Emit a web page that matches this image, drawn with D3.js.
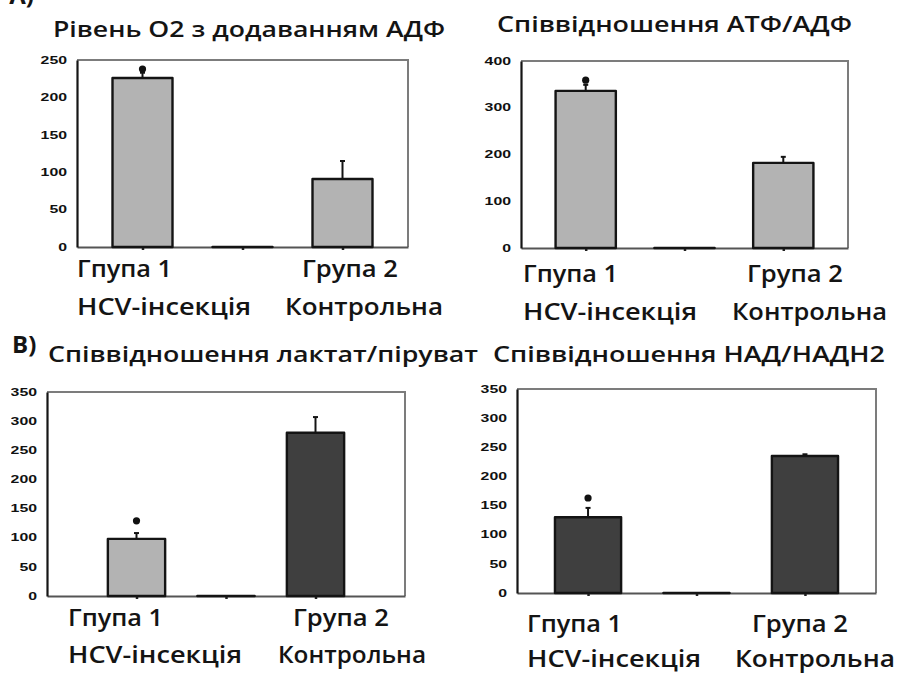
<!DOCTYPE html>
<html>
<head>
<meta charset="utf-8">
<script src="https://cdn.jsdelivr.net/npm/d3@7"></script>
<style>
body { margin: 0; background: #fff; }
svg { display: block; }
.title, .cat_label { font-family: "Open Sans", "Noto Sans", sans-serif; font-weight: 600; fill: #141414; }
.panel_letter { font-family: "Open Sans", "Noto Sans", sans-serif; font-weight: bold; fill: #141414; }
</style>
</head>
<body>
<svg id="figure" width="898" height="675"></svg>
<script>
// categories on the x axis (middle one is an empty slot)
const categories = ['group1', 'blank', 'group2'];
const group_names = ['Гпупа 1', 'Група 2'];
const group_subnames = ['HCV-інсекція', 'Контрольна'];

const titles = [
    'Рівень О2 з додаванням АДФ',
    'Співвідношення АТФ/АДФ',
    'Співвідношення лактат/піруват',
    'Співвідношення НАД/НАДН2'
];

// values
const o2_values = [226, 0, 91];
const o2_errors = [7, 0, 24];
const o2_ticks = [0, 50, 100, 150, 200, 250];

const atp_values = [336, 0, 182];
const atp_errors = [13, 0, 13];
const atp_ticks = [0, 100, 200, 300, 400];

const lactate_values = [98, 0, 280];
const lactate_errors = [10, 0, 27];
const lactate_ticks = [0, 50, 100, 150, 200, 250, 300, 350];

const nad_values = [130, 0, 235];
const nad_errors = [16, 0, 3];
const nad_ticks = [0, 50, 100, 150, 200, 250, 300, 350];

// significance dot above group 1, per panel
const star_values = [238, 359, 129, 163];

const LIGHT = '#b3b3b3';
const DARK = '#3f3f3f';

const panels = [
    {values: o2_values, errors: o2_errors, ticks: o2_ticks, star: star_values[0], title: titles[0],
     colors: [LIGHT, LIGHT, LIGHT], padding: 0.655, bar_frac: 0.6,
     frame: {left: 77, right: 408, top: 60, bottom: 247},
     title_pos: {x: 53, y: 37, w: 392},
     label_pos: {x1: 77, x2: 302, x2b: 285, y1: 277, y2: 315, w2b: 158}},
    {values: atp_values, errors: atp_errors, ticks: atp_ticks, star: star_values[1], title: titles[1],
     colors: [LIGHT, LIGHT, LIGHT], padding: 0.655, bar_frac: 0.61,
     frame: {left: 521, right: 848, top: 61, bottom: 248},
     title_pos: {x: 497, y: 32, w: 355},
     label_pos: {x1: 523, x2: 747, x2b: 732, y1: 282, y2: 320, w2b: 155}},
    {values: lactate_values, errors: lactate_errors, ticks: lactate_ticks, star: star_values[2], title: titles[2],
     colors: [LIGHT, LIGHT, DARK], padding: 1.0, bar_frac: 0.64,
     frame: {left: 47, right: 405, top: 392, bottom: 596},
     title_pos: {x: 48, y: 362, w: 430},
     label_pos: {x1: 68, x2: 293, x2b: 278, y1: 626, y2: 663, w2b: 148}},
    {values: nad_values, errors: nad_errors, ticks: nad_ticks, star: star_values[3], title: titles[3],
     colors: [DARK, DARK, DARK], padding: 0.655, bar_frac: 0.61,
     frame: {left: 517, right: 876, top: 389, bottom: 593},
     title_pos: {x: 493, y: 362, w: 392},
     label_pos: {x1: 527, x2: 752, x2b: 735, y1: 632, y2: 667, w2b: 160}}
];

function draw_panel(svg, panel) {
    const f = panel.frame;
    const x = d3.scalePoint().domain(categories).range([f.left, f.right]).padding(panel.padding);
    const y = d3.scaleLinear().domain([0, d3.max(panel.ticks)]).range([f.bottom, f.top]);
    const bar_w = x.step() * panel.bar_frac;
    const g = svg.append('g');

    // top and right edges of the plot box
    g.append('path')
        .attr('d', `M${f.left},${f.top}H${f.right}V${f.bottom}`)
        .attr('fill', 'none')
        .attr('stroke', '#7c7c7c')
        .attr('stroke-width', 2);

    const xa = g.append('g')
        .attr('transform', `translate(0,${f.bottom})`)
        .call(d3.axisBottom(x).tickSize(3).tickSizeOuter(0).tickFormat(''));
    xa.select('.domain').attr('stroke', '#555').attr('stroke-width', 2);
    xa.selectAll('.tick line').attr('stroke', '#222').attr('stroke-width', 2.5);

    const ya = g.append('g')
        .attr('transform', `translate(${f.left},0)`)
        .call(d3.axisLeft(y).tickValues(panel.ticks).tickSize(0).tickSizeOuter(0).tickPadding(10));
    ya.select('.domain').attr('stroke', '#151515').attr('stroke-width', 2.2);
    ya.selectAll('text')
        .attr('font-family', '"Liberation Sans", Arial, sans-serif')
        .attr('font-weight', 'bold')
        .attr('font-size', 10)
        .attr('fill', '#111')
        .attr('textLength', d => String(d).length * 8.8)
        .attr('lengthAdjust', 'spacingAndGlyphs');

    // bars as paths so the empty slot still shows as a line on the axis
    g.selectAll('.bar')
        .data(panel.values)
        .join('path')
        .attr('class', 'bar')
        .attr('d', (d, i) => {
            const x0 = x(categories[i]) - bar_w / 2;
            return `M${x0},${y(0)}V${y(d)}H${x0 + bar_w}V${y(0)}Z`;
        })
        .attr('fill', (d, i) => panel.colors[i])
        .attr('stroke', '#141414')
        .attr('stroke-width', 2.4)
        .attr('stroke-linejoin', 'round');

    // upper error whiskers
    panel.values.forEach((v, i) => {
        const e = panel.errors[i];
        if (!e) {
            return;
        }
        const cx = x(categories[i]);
        g.append('line')
            .attr('x1', cx).attr('x2', cx)
            .attr('y1', y(v)).attr('y2', y(v + e))
            .attr('stroke', '#141414').attr('stroke-width', 2);
        g.append('line')
            .attr('x1', cx - 2.5).attr('x2', cx + 2.5)
            .attr('y1', y(v + e)).attr('y2', y(v + e))
            .attr('stroke', '#141414').attr('stroke-width', 2);
    });

    g.append('circle')
        .attr('cx', x(categories[0]))
        .attr('cy', y(panel.star))
        .attr('r', 3.6)
        .attr('fill', '#111');

    svg.append('text')
        .attr('class', 'title')
        .attr('x', panel.title_pos.x)
        .attr('y', panel.title_pos.y)
        .attr('font-size', 22)
        .attr('textLength', panel.title_pos.w)
        .attr('lengthAdjust', 'spacingAndGlyphs')
        .text(panel.title);

    const lp = panel.label_pos;
    const labels = [
        {t: group_names[0], x: lp.x1, y: lp.y1, w: 95},
        {t: group_subnames[0], x: lp.x1, y: lp.y2, w: 174},
        {t: group_names[1], x: lp.x2, y: lp.y1, w: 96},
        {t: group_subnames[1], x: lp.x2b, y: lp.y2, w: lp.w2b}
    ];
    svg.selectAll(null)
        .data(labels)
        .join('text')
        .attr('class', 'cat_label')
        .attr('x', d => d.x)
        .attr('y', d => d.y)
        .attr('font-size', 23)
        .attr('textLength', d => d.w)
        .attr('lengthAdjust', 'spacingAndGlyphs')
        .text(d => d.t);
}

const svg = d3.select('#figure');
panels.forEach((p) => draw_panel(svg, p));

// panel letters (the top one is mostly cut off by the page edge, as in the source)
svg.append('text').attr('class', 'panel_letter')
    .attr('x', 34).attr('y', 4).attr('text-anchor', 'end').attr('font-size', 24).text('A)');
svg.append('text').attr('class', 'panel_letter')
    .attr('x', 12).attr('y', 353).attr('font-size', 24).text('B)');

// left edge of the source image cuts into the bottom-left tick labels
svg.append('rect').attr('x', 0).attr('y', 380).attr('width', 11).attr('height', 230).attr('fill', '#fff');
</script>
</body>
</html>
